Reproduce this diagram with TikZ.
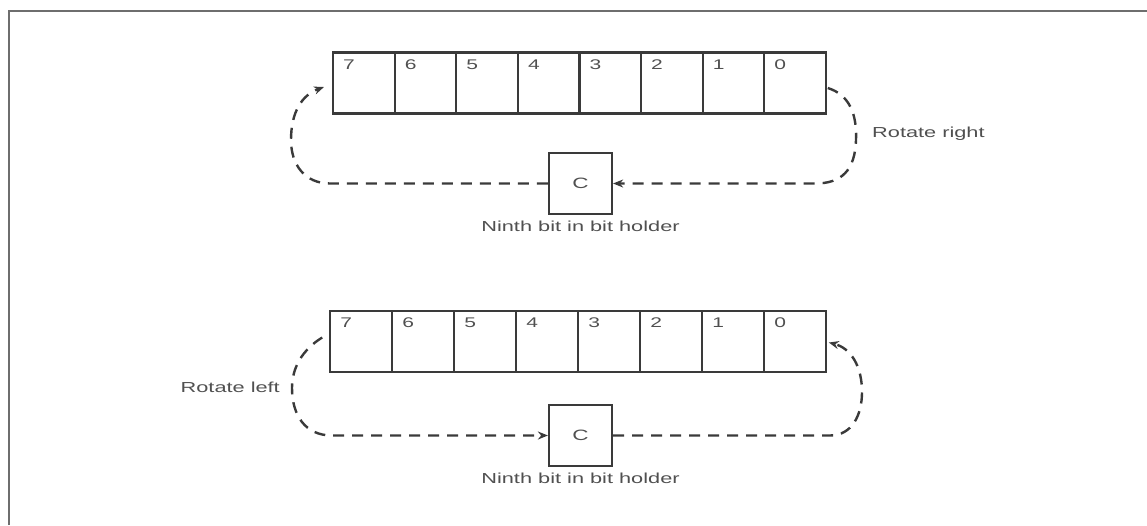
\documentclass[tikz,border=0pt]{standalone}
\usepackage{fontspec}
\newfontfamily\labfont[FakeStretch=1.5]{Liberation Sans}
\usetikzlibrary{arrows.meta,calc}
\definecolor{ink}{HTML}{3A3A3A}
\definecolor{txt}{HTML}{505050}
\definecolor{frame}{HTML}{6E6E6E}
\tikzset{
  cell/.style={draw=ink, line width=2.2pt, minimum width=61.6pt, minimum height=61pt, inner sep=0pt, outer sep=0pt},
  cbox/.style={draw=ink, line width=2.2pt, minimum width=63pt, minimum height=61pt, inner sep=0pt, font=\labfont\fontsize{15}{17}\selectfont, text=txt},
  digit/.style={anchor=north west, inner sep=0pt, font=\labfont\fontsize{14}{16}\selectfont, text=txt},
  lab/.style={inner sep=0pt, font=\labfont\fontsize{14.5}{17}\selectfont, text=txt},
  dashline/.style={draw=ink, line width=2.4pt, dash pattern=on 11pt off 8pt, -{Stealth[length=10pt,width=8pt]}},
}
\begin{document}
\begin{tikzpicture}[x=1pt,y=-1pt]
\useasboundingbox (0,0) rectangle (1147,525);
% frame
\draw[frame, line width=2.4pt] (9,525) -- (9,11) -- (1147,11);
% top register
\foreach \i/\d in {0/7,1/6,2/5,3/4,4/3,5/2,6/1,7/0}{
  \node[cell] (t\d) at ({333+61.6*\i+30.8},83) {};
  \node[digit] (td\d) at ($(t\d.north west)+(10,7)$) {\d};
}
\node[cbox] (c1) at (580.5,183.5) {C};
\node[lab, anchor=north] (l1) at ($(c1.south)+(0,6)$) {Ninth bit in bit holder};
\node[lab, anchor=west] (rr) at (872,134) {Rotate right};
\coordinate (trs) at ($(t0.east)+(2,5)$);
\coordinate (tle) at ($(t7.west)+(-9,4)$);
\draw[dashline] (trs) .. controls (850,95) and (857,115) .. (856,140)
  .. controls (855,170) and (842,183.5) .. (815,183.5) -- (c1.east);
\draw[dashline] (c1.west) -- (330,183.5) .. controls (305,183.5) and (291,165) .. (291,140)
  .. controls (291,112) and (302,95) .. (tle);
% bottom register
\foreach \i/\d in {0/7,1/6,2/5,3/4,4/3,5/2,6/1,7/0}{
  \node[cell] (b\d) at ({330+62*\i+31},341.5) {};
  \node[digit] (bd\d) at ($(b\d.north west)+(10,7)$) {\d};
}
\node[cbox] (c2) at (580.5,435.5) {C};
\node[lab, anchor=north] (l2) at ($(c2.south)+(0,6)$) {Ninth bit in bit holder};
\node[lab, anchor=east] (rl) at (280,387) {Rotate left};
\coordinate (bls) at ($(b7.west)+(-8,-4)$);
\coordinate (bre) at ($(b0.east)+(3,1)$);
\draw[dashline] (bls) .. controls (302,350) and (292,368) .. (292,388)
  .. controls (292,415) and (305,435.5) .. (332,435.5) -- (c2.west);
\draw[dashline] (c2.east) -- (830,435.5) .. controls (852,435.5) and (862,415) .. (862,392)
  .. controls (862,365) and (850,348) .. (bre);
\end{tikzpicture}
\end{document}
